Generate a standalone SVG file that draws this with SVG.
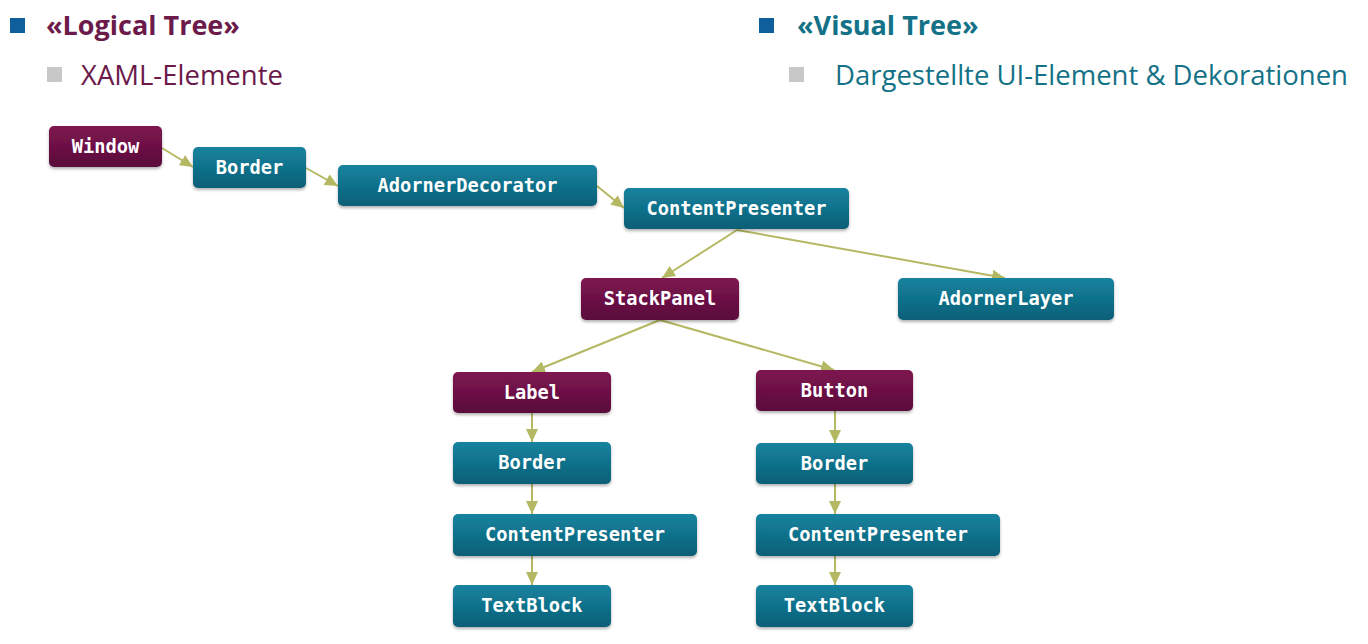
<svg xmlns="http://www.w3.org/2000/svg" width="1368" height="644" viewBox="0 0 1368 644">
<defs>
<linearGradient id="gT" x1="0" y1="0" x2="0" y2="1">
<stop offset="0" stop-color="#15839f"/>
<stop offset="1" stop-color="#0c5f77"/>
</linearGradient>
<linearGradient id="gP" x1="0" y1="0" x2="0" y2="1">
<stop offset="0" stop-color="#7e1551"/>
<stop offset="1" stop-color="#5a0c3b"/>
</linearGradient>
<filter id="sh" x="-10%" y="-20%" width="120%" height="150%">
<feDropShadow dx="0" dy="2" stdDeviation="1.5" flood-color="#000" flood-opacity="0.3"/>
</filter>
<marker id="ah" markerUnits="userSpaceOnUse" markerWidth="14" markerHeight="12" refX="13" refY="6" orient="auto">
<path d="M0,0 L13,6 L0,12 z" fill="#b5b862"/>
</marker>
</defs>
<style>
.t{fill:url(#gT);filter:url(#sh)}
.p{fill:url(#gP);filter:url(#sh)}
.lbl{font-family:"DejaVu Sans Mono","Liberation Mono",monospace;font-weight:bold;font-size:18.7px;fill:#ffffff;text-anchor:middle}
.c line{stroke:#b5b862;stroke-width:2;marker-end:url(#ah)}
.h1{font-family:"Open Sans","Liberation Sans",sans-serif;font-weight:bold;font-size:27px}
.h2{font-family:"Open Sans","Liberation Sans",sans-serif;font-size:27.5px}
</style>
<rect width="1368" height="644" fill="#ffffff"/>
<g id="header">
<rect x="10" y="18" width="15" height="15" fill="#0f5f9c"/>
<text x="46" y="35" class="h1" fill="#6b1a4a">«Logical Tree»</text>
<rect x="47" y="67" width="15" height="15" fill="#c8c8c8"/>
<text x="81" y="85" class="h2" fill="#6b1a4a">XAML-Elemente</text>
<rect x="759" y="18" width="15" height="15" fill="#0f5f9c"/>
<text x="797" y="35" class="h1" fill="#137287">«Visual Tree»</text>
<rect x="789" y="67" width="15" height="15" fill="#c8c8c8"/>
<text x="835" y="85" class="h2" fill="#137287">Dargestellte UI-Element &amp; Dekorationen</text>
</g>
<g id="connectors" class="c">
<line x1="162" y1="148" x2="193" y2="167"/>
<line x1="306" y1="168" x2="338" y2="186"/>
<line x1="597" y1="186" x2="624" y2="208"/>
<line x1="737" y1="230" x2="662" y2="278"/>
<line x1="737" y1="230" x2="1005" y2="278"/>
<line x1="660" y1="320" x2="532" y2="372"/>
<line x1="660" y1="320" x2="834" y2="370"/>
<line x1="532" y1="413" x2="532" y2="442"/>
<line x1="532" y1="484" x2="532" y2="514"/>
<line x1="532" y1="556" x2="532" y2="585"/>
<line x1="835" y1="411" x2="835" y2="443"/>
<line x1="835" y1="484" x2="835" y2="514"/>
<line x1="835" y1="556" x2="835" y2="585"/>
</g>
<g id="n-window"><rect class="p" x="49" y="126" width="113" height="41" rx="5"/><text class="lbl" x="105.5" y="153">Window</text></g>
<g id="n-border1"><rect class="t" x="193" y="147" width="113" height="41" rx="5"/><text class="lbl" x="249.5" y="174">Border</text></g>
<g id="n-adornerdecorator"><rect class="t" x="338" y="165" width="259" height="41" rx="5"/><text class="lbl" x="467.5" y="192">AdornerDecorator</text></g>
<g id="n-contentpresenter"><rect class="t" x="624" y="188" width="225" height="41" rx="5"/><text class="lbl" x="736.5" y="215">ContentPresenter</text></g>
<g id="n-stackpanel"><rect class="p" x="581" y="278" width="158" height="42" rx="5"/><text class="lbl" x="660" y="305">StackPanel</text></g>
<g id="n-adornerlayer"><rect class="t" x="898" y="278" width="216" height="42" rx="5"/><text class="lbl" x="1006" y="305">AdornerLayer</text></g>
<g id="n-label"><rect class="p" x="453" y="372" width="158" height="41" rx="5"/><text class="lbl" x="532" y="399">Label</text></g>
<g id="n-border-l"><rect class="t" x="453" y="442" width="158" height="42" rx="5"/><text class="lbl" x="532" y="469">Border</text></g>
<g id="n-cp-l"><rect class="t" x="453" y="514" width="244" height="42" rx="5"/><text class="lbl" x="575" y="541">ContentPresenter</text></g>
<g id="n-textblock-l"><rect class="t" x="453" y="585" width="158" height="42" rx="5"/><text class="lbl" x="532" y="612">TextBlock</text></g>
<g id="n-button"><rect class="p" x="756" y="370" width="157" height="41" rx="5"/><text class="lbl" x="834.5" y="397">Button</text></g>
<g id="n-border-r"><rect class="t" x="756" y="443" width="157" height="41" rx="5"/><text class="lbl" x="834.5" y="470">Border</text></g>
<g id="n-cp-r"><rect class="t" x="756" y="514" width="244" height="42" rx="5"/><text class="lbl" x="878" y="541">ContentPresenter</text></g>
<g id="n-textblock-r"><rect class="t" x="756" y="585" width="157" height="42" rx="5"/><text class="lbl" x="834.5" y="612">TextBlock</text></g>
</svg>
